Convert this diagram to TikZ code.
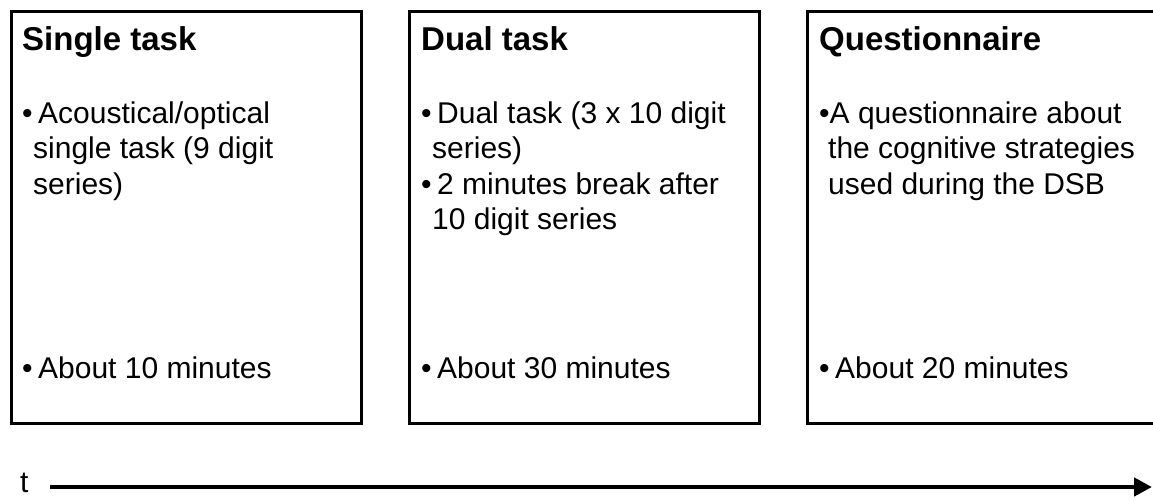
\documentclass[tikz,border=0pt]{standalone}
\usepackage{fontspec}
\setmainfont{Liberation Sans}
\usetikzlibrary{arrows.meta}

\newcommand{\bul}{\makebox[16pt][l]{\textbullet}}
\newcommand{\cont}{\hspace*{11pt}}

\begin{document}
\begin{tikzpicture}[x=1pt,y=-1pt,
	phase/.style={draw,line width=3pt,anchor=north west,minimum width=350pt,minimum height=412pt,inner sep=0pt},
	heading/.style={anchor=base west,inner sep=0pt,font=\fontsize{33}{36}\selectfont\bfseries},
	item/.style={anchor=base west,inner sep=0pt,align=left,font=\fontsize{30}{35.5}\selectfont},
	timeline/.style={line width=4.5pt,-{Triangle[length=18pt,width=18pt]}}]
				\useasboundingbox (0,0) rectangle (1153,499);
				\clip (0,0) rectangle (1153,499);
				% drei Phasen
				\node[phase] (single) at (10,10) {};
				\node[phase] (dual) at (408,10) {};
				\node[phase] (quest) at (806,10) {};
				\node[heading] (singleT) at (22,50) {Single task};
				\node[heading] (dualT) at (421,50) {Dual task};
				\node[heading] (questT) at (819,50) {Questionnaire};
				% base = letzte Zeile
				\node[item] (singleB) at (22,194) {\bul Acoustical/optical\\\cont single task (9 digit\\\cont series)};
				\node[item] (dualB) at (421,229.5) {\bul Dual task (3 x 10 digit\\\cont series)\\\bul 2 minutes break after\\\cont 10 digit series};
				\node[item] (questB) at (819,194) {\textbullet A questionnaire about\\\hspace*{9pt}the cognitive strategies\\\hspace*{9pt}used during the DSB};
				\node[item] (singleD) at (22,378) {\bul About 10 minutes};
				\node[item] (dualD) at (421,378) {\bul About 30 minutes};
				\node[item] (questD) at (819,378) {\bul About 20 minutes};
				% Zeitachse
				\node[item] (tlabel) at (20,492) {t};
				\coordinate (tstart) at (50,487);
				\coordinate (tend) at (1152,487);
				\draw[timeline] (tstart) -- (tend);
			\end{tikzpicture}
\end{document}
